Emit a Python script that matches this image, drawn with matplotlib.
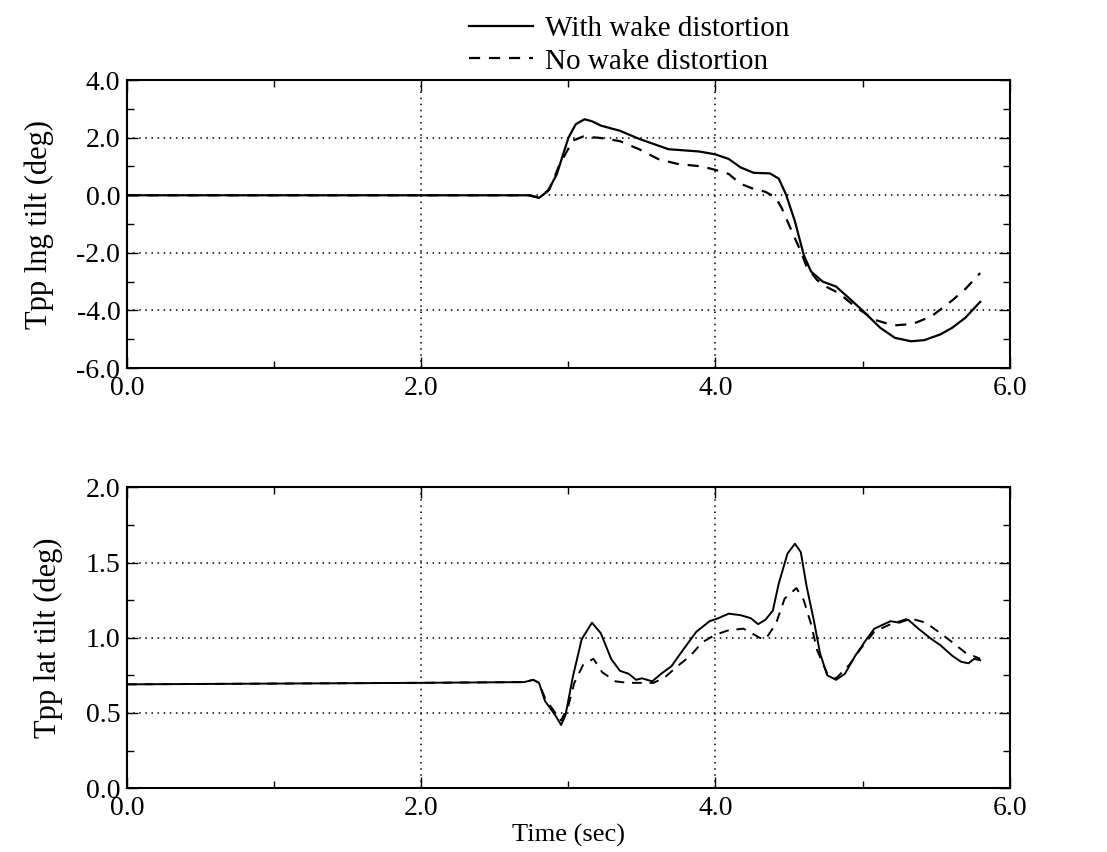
import matplotlib
matplotlib.use('Agg')
import matplotlib.pyplot as plt
import numpy as np
from matplotlib.ticker import MultipleLocator, FormatStrFormatter

plt.rcParams['font.family'] = ['Liberation Serif', 'DejaVu Serif']

# ---- top panel: Tpp lng tilt (deg) ----
t_lng_wake = [0.0, 2.73, 2.80, 2.86, 2.92, 3.00, 3.05, 3.11, 3.16, 3.22, 3.35, 3.48, 3.68,
              3.89, 4.00, 4.09, 4.17, 4.26, 4.37, 4.43, 4.48, 4.54, 4.60, 4.65, 4.73,
              4.82, 4.91, 5.01, 5.12, 5.22, 5.33, 5.42, 5.53, 5.61, 5.70, 5.80]
lng_wake = [0.0, 0.0, -0.09, 0.15, 0.72, 2.0, 2.47, 2.64, 2.57, 2.42, 2.24, 1.96, 1.6,
            1.52, 1.42, 1.26, 0.97, 0.78, 0.76, 0.58, 0.02, -0.9, -2.07, -2.65, -3.0,
            -3.17, -3.58, -4.05, -4.6, -4.95, -5.07, -5.03, -4.83, -4.6, -4.25, -3.7]

t_lng_nowake = [0.0, 2.73, 2.80, 2.87, 2.94, 3.03, 3.10, 3.22, 3.35, 3.48, 3.61, 3.74, 3.91,
                4.00, 4.09, 4.17, 4.26, 4.34, 4.41, 4.45, 4.52, 4.58, 4.62, 4.69, 4.75,
                4.84, 4.95, 5.08, 5.21, 5.34, 5.47, 5.61, 5.70, 5.80]
lng_nowake = [0.0, 0.0, -0.08, 0.2, 1.07, 1.9, 2.04, 1.99, 1.88, 1.6, 1.26, 1.09, 1.0,
              0.88, 0.74, 0.4, 0.22, 0.12, -0.08, -0.44, -1.26, -1.95, -2.48, -2.94, -3.17,
              -3.4, -3.87, -4.32, -4.52, -4.47, -4.2, -3.65, -3.25, -2.7]

# ---- bottom panel: Tpp lat tilt (deg) ----
t_lat_wake = [0.0, 1.0, 2.0, 2.70, 2.76, 2.80, 2.84, 2.91, 2.95, 2.98, 3.03, 3.09, 3.16,
              3.22, 3.29, 3.35, 3.41, 3.46, 3.50, 3.57, 3.63, 3.70, 3.78, 3.87, 3.96,
              4.02, 4.09, 4.17, 4.24, 4.29, 4.34, 4.39, 4.43, 4.49, 4.54, 4.58, 4.62,
              4.67, 4.71, 4.76, 4.82, 4.88, 4.95, 5.02, 5.08, 5.19, 5.25, 5.31, 5.38,
              5.47, 5.53, 5.61, 5.67, 5.72, 5.76, 5.80]
lat_wake = [0.69, 0.695, 0.70, 0.705, 0.72, 0.70, 0.58, 0.485, 0.42, 0.485, 0.74, 0.99, 1.10,
            1.03, 0.86, 0.78, 0.76, 0.72, 0.73, 0.71, 0.76, 0.81, 0.92, 1.04, 1.11,
            1.13, 1.16, 1.15, 1.13, 1.09, 1.12, 1.18, 1.36, 1.56, 1.625, 1.57, 1.34,
            1.11, 0.90, 0.75, 0.72, 0.76, 0.88, 0.98, 1.06, 1.11, 1.10, 1.12, 1.06,
            0.99, 0.95, 0.88, 0.84, 0.83, 0.86, 0.85]

t_lat_nowake = [0.0, 1.0, 2.0, 2.70, 2.76, 2.80, 2.84, 2.91, 2.95, 3.00, 3.04, 3.10, 3.17,
                3.23, 3.32, 3.40, 3.49, 3.58, 3.66, 3.74, 3.83, 3.91, 4.00, 4.09, 4.19,
                4.30, 4.34, 4.41, 4.47, 4.55, 4.60, 4.65, 4.69, 4.76, 4.82, 4.91, 4.99,
                5.08, 5.19, 5.32, 5.43, 5.53, 5.61, 5.70, 5.80]
lat_nowake = [0.69, 0.695, 0.70, 0.705, 0.72, 0.70, 0.60, 0.50, 0.45, 0.55, 0.70, 0.82, 0.86,
              0.77, 0.71, 0.70, 0.70, 0.70, 0.74, 0.81, 0.88, 0.97, 1.02, 1.05, 1.06,
              1.0, 0.99, 1.09, 1.26, 1.33, 1.25, 1.09, 0.92, 0.76, 0.73, 0.82, 0.93,
              1.04, 1.09, 1.13, 1.10, 1.03, 0.97, 0.90, 0.86]

fig = plt.figure(figsize=(11.07, 8.52), dpi=100)
ax1 = fig.add_axes([0.115, 0.568, 0.797, 0.338])
ax2 = fig.add_axes([0.115, 0.075, 0.797, 0.353])

l1, = ax1.plot(t_lng_wake, lng_wake, color='black', lw=1.6)
l2, = ax1.plot(t_lng_nowake, lng_nowake, color='black', lw=1.6, ls=(0, (5, 4)))
ax2.plot(t_lat_wake, lat_wake, color='black', lw=1.4)
ax2.plot(t_lat_nowake, lat_nowake, color='black', lw=1.4, ls=(0, (5, 4)))

def style(ax, ylim, ymaj, ymin):
    ax.set_xlim(0, 6)
    ax.set_ylim(*ylim)
    ax.xaxis.set_major_locator(MultipleLocator(2))
    ax.xaxis.set_minor_locator(MultipleLocator(1))
    ax.yaxis.set_major_locator(MultipleLocator(ymaj))
    ax.yaxis.set_minor_locator(MultipleLocator(ymin))
    ax.xaxis.set_major_formatter(FormatStrFormatter('%.1f'))
    ax.yaxis.set_major_formatter(FormatStrFormatter('%.1f'))
    ax.tick_params(which='both', direction='in', top=True, right=True,
                   labelsize=20, width=1)
    ax.tick_params(which='major', length=8)
    ax.tick_params(which='minor', length=5)
    ax.tick_params(axis='y', pad=5)
    ax.tick_params(axis='x', pad=6)
    ax.grid(True, which='major', color='black', ls=(0, (1, 3)), lw=1.1)
    for s in ax.spines.values():
        s.set_linewidth(1.5)

style(ax1, (-6, 4), 2, 1)
style(ax2, (0, 2), 0.5, 0.25)

ax1.set_ylabel('Tpp lng tilt (deg)', fontsize=22, labelpad=16)
ax2.set_ylabel('Tpp lat tilt (deg)', fontsize=22, labelpad=16)
ax2.set_xlabel('Time (sec)', fontsize=19, labelpad=2)

fig.legend([l1, l2], ['With wake distortion', 'No wake distortion'],
           loc='upper left', bbox_to_anchor=(0.405, 1.006), frameon=False,
           fontsize=21, handlelength=2.2, handletextpad=0.4, labelspacing=0.22,
           borderpad=0.2)

plt.savefig('out.png', dpi=100)
